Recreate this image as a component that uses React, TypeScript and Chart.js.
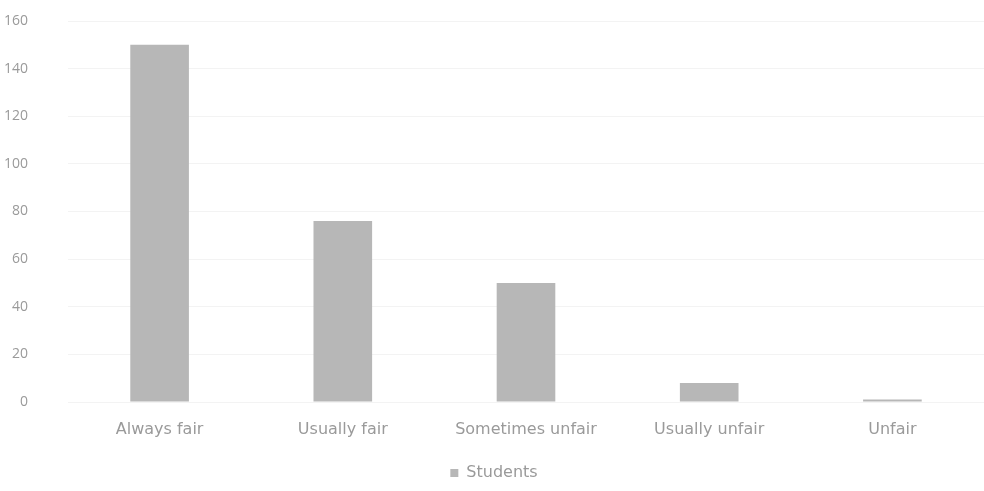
import React, { useEffect, useRef } from "react";
import { Chart, registerables } from "chart.js";

Chart.register(...registerables);

const categories = ["Always fair", "Usually fair", "Sometimes unfair", "Usually unfair", "Unfair"];
const studentValues = [150, 76, 50, 8, 1];
const yTicks = [0, 20, 40, 60, 80, 100, 120, 140, 160];
const seriesName = "Students";

export default function App() {
  const ref = useRef<HTMLCanvasElement | null>(null);
  useEffect(() => {
    document.body.style.margin = "0";
    if (!ref.current) return;
    const xFont = { family: "'DejaVu Sans', sans-serif", size: 16 };
    const yFont = { family: "'Open Sans', sans-serif", size: 14 };
    const chart = new Chart(ref.current, {
      type: "bar",
      data: {
        labels: categories,
        datasets: [
          {
            label: seriesName,
            data: studentValues,
            backgroundColor: "#b7b7b7",
            borderWidth: 0,
            barPercentage: 0.32,
            categoryPercentage: 1,
          },
        ],
      },
      options: {
        responsive: false,
        animation: false,
        layout: { padding: { left: 4, right: 0, top: 0, bottom: 0 } },
        plugins: {
          legend: {
            position: "bottom",
            labels: {
              color: "#9a9a9a",
              font: xFont,
              boxWidth: 8,
              boxHeight: 8,
              padding: 0,
            },
          },
          tooltip: { enabled: false },
        },
        scales: {
          x: {
            grid: { display: false },
            border: { display: false },
            ticks: { color: "#9a9a9a", font: xFont, padding: 10 },
            afterFit: (scale: any) => {
              scale.height = 63;
              scale.paddingLeft = 0;
              scale.paddingRight = 0;
            },
          },
          y: {
            min: 0,
            max: 160,
            afterBuildTicks: (axis: any) => {
              axis.ticks = yTicks.map((v) => ({ value: v }));
            },
            grid: { color: "#f3f3f3", drawTicks: false },
            border: { display: false },
            ticks: { color: "#9a9a9a", font: yFont, padding: 40 },
            afterFit: (scale: any) => {
              scale.width = 64;
              scale.paddingTop = 21;
              scale.paddingBottom = 0;
            },
          },
        },
      },
    });
    return () => chart.destroy();
  }, []);
  return (
    <div style={{ width: 984, height: 491, overflow: "hidden" }}>
      <canvas ref={ref} width={984} height={491} style={{ display: "block", width: 984, height: 491 }} />
    </div>
  );
}
